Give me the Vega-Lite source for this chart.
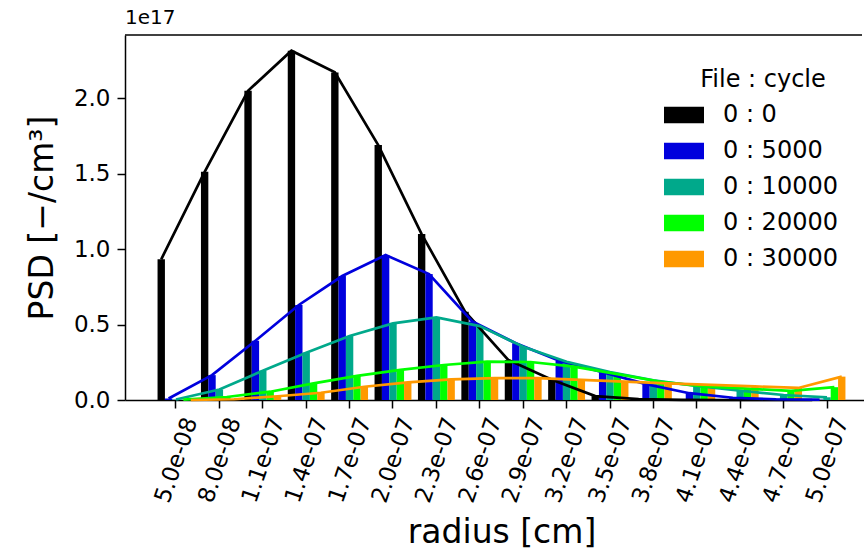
{
  "$schema": "https://vega.github.io/schema/vega-lite/v6.json",
  "autosize": "none",
  "width": 737,
  "height": 365,
  "padding": {"left": 125, "top": 35, "right": 2, "bottom": 153},
  "config": {
    "font": "DejaVu Sans",
    "view": {"stroke": null},
    "axis": {"grid": false, "domainColor": "black", "domainWidth": 1.5, "tickColor": "black", "tickWidth": 1.5, "labelColor": "black", "titleColor": "black", "titleFontWeight": "normal"}
  },
  "title": {"text": "1e17", "anchor": "start", "frame": "group", "fontSize": 20, "fontWeight": "normal", "color": "black", "offset": 6},
  "data": {
    "values": [
      {"r": "5.0e-08", "s": "0 : 0", "v": 9.33e16},
      {"r": "8.0e-08", "s": "0 : 0", "v": 1.513e17},
      {"r": "1.1e-07", "s": "0 : 0", "v": 2.05e17},
      {"r": "1.4e-07", "s": "0 : 0", "v": 2.316e17},
      {"r": "1.7e-07", "s": "0 : 0", "v": 2.172e17},
      {"r": "2.0e-07", "s": "0 : 0", "v": 1.69e17},
      {"r": "2.3e-07", "s": "0 : 0", "v": 1.1e17},
      {"r": "2.6e-07", "s": "0 : 0", "v": 5.85e16},
      {"r": "2.9e-07", "s": "0 : 0", "v": 2.65e16},
      {"r": "3.2e-07", "s": "0 : 0", "v": 1.35e16},
      {"r": "3.5e-07", "s": "0 : 0", "v": 2.6e15},
      {"r": "3.8e-07", "s": "0 : 0", "v": 6e14},
      {"r": "4.1e-07", "s": "0 : 0", "v": 1e14},
      {"r": "4.4e-07", "s": "0 : 0", "v": 0},
      {"r": "4.7e-07", "s": "0 : 0", "v": 0},
      {"r": "5.0e-07", "s": "0 : 0", "v": 0},
      {"r": "5.0e-08", "s": "0 : 5000", "v": 1e15},
      {"r": "8.0e-08", "s": "0 : 5000", "v": 1.65e16},
      {"r": "1.1e-07", "s": "0 : 5000", "v": 3.93e16},
      {"r": "1.4e-07", "s": "0 : 5000", "v": 6.3e16},
      {"r": "1.7e-07", "s": "0 : 5000", "v": 8.22e16},
      {"r": "2.0e-07", "s": "0 : 5000", "v": 9.61e16},
      {"r": "2.3e-07", "s": "0 : 5000", "v": 8.35e16},
      {"r": "2.6e-07", "s": "0 : 5000", "v": 5.2e16},
      {"r": "2.9e-07", "s": "0 : 5000", "v": 3.76e16},
      {"r": "3.2e-07", "s": "0 : 5000", "v": 2.6e16},
      {"r": "3.5e-07", "s": "0 : 5000", "v": 1.85e16},
      {"r": "3.8e-07", "s": "0 : 5000", "v": 1.05e16},
      {"r": "4.1e-07", "s": "0 : 5000", "v": 4.5e15},
      {"r": "4.4e-07", "s": "0 : 5000", "v": 1.5e15},
      {"r": "4.7e-07", "s": "0 : 5000", "v": 5e14},
      {"r": "5.0e-07", "s": "0 : 5000", "v": 2e14},
      {"r": "5.0e-08", "s": "0 : 10000", "v": 3e14},
      {"r": "8.0e-08", "s": "0 : 10000", "v": 7e15},
      {"r": "1.1e-07", "s": "0 : 10000", "v": 1.94e16},
      {"r": "1.4e-07", "s": "0 : 10000", "v": 3.14e16},
      {"r": "1.7e-07", "s": "0 : 10000", "v": 4.24e16},
      {"r": "2.0e-07", "s": "0 : 10000", "v": 5.08e16},
      {"r": "2.3e-07", "s": "0 : 10000", "v": 5.48e16},
      {"r": "2.6e-07", "s": "0 : 10000", "v": 4.9e16},
      {"r": "2.9e-07", "s": "0 : 10000", "v": 3.53e16},
      {"r": "3.2e-07", "s": "0 : 10000", "v": 2.54e16},
      {"r": "3.5e-07", "s": "0 : 10000", "v": 1.85e16},
      {"r": "3.8e-07", "s": "0 : 10000", "v": 1.3e16},
      {"r": "4.1e-07", "s": "0 : 10000", "v": 9.3e15},
      {"r": "4.4e-07", "s": "0 : 10000", "v": 6.2e15},
      {"r": "4.7e-07", "s": "0 : 10000", "v": 3.3e15},
      {"r": "5.0e-07", "s": "0 : 10000", "v": 1.8e15},
      {"r": "5.0e-08", "s": "0 : 20000", "v": 2e14},
      {"r": "8.0e-08", "s": "0 : 20000", "v": 2e15},
      {"r": "1.1e-07", "s": "0 : 20000", "v": 5.5e15},
      {"r": "1.4e-07", "s": "0 : 20000", "v": 1.1e16},
      {"r": "1.7e-07", "s": "0 : 20000", "v": 1.6e16},
      {"r": "2.0e-07", "s": "0 : 20000", "v": 2.0e16},
      {"r": "2.3e-07", "s": "0 : 20000", "v": 2.32e16},
      {"r": "2.6e-07", "s": "0 : 20000", "v": 2.54e16},
      {"r": "2.9e-07", "s": "0 : 20000", "v": 2.52e16},
      {"r": "3.2e-07", "s": "0 : 20000", "v": 2.21e16},
      {"r": "3.5e-07", "s": "0 : 20000", "v": 1.72e16},
      {"r": "3.8e-07", "s": "0 : 20000", "v": 1.21e16},
      {"r": "4.1e-07", "s": "0 : 20000", "v": 9e15},
      {"r": "4.4e-07", "s": "0 : 20000", "v": 7.5e15},
      {"r": "4.7e-07", "s": "0 : 20000", "v": 6e15},
      {"r": "5.0e-07", "s": "0 : 20000", "v": 8.5e15},
      {"r": "5.0e-08", "s": "0 : 30000", "v": 0},
      {"r": "8.0e-08", "s": "0 : 30000", "v": 5e14},
      {"r": "1.1e-07", "s": "0 : 30000", "v": 2.5e15},
      {"r": "1.4e-07", "s": "0 : 30000", "v": 4.8e15},
      {"r": "1.7e-07", "s": "0 : 30000", "v": 8.8e15},
      {"r": "2.0e-07", "s": "0 : 30000", "v": 1.17e16},
      {"r": "2.3e-07", "s": "0 : 30000", "v": 1.37e16},
      {"r": "2.6e-07", "s": "0 : 30000", "v": 1.45e16},
      {"r": "2.9e-07", "s": "0 : 30000", "v": 1.45e16},
      {"r": "3.2e-07", "s": "0 : 30000", "v": 1.33e16},
      {"r": "3.5e-07", "s": "0 : 30000", "v": 1.22e16},
      {"r": "3.8e-07", "s": "0 : 30000", "v": 1.1e16},
      {"r": "4.1e-07", "s": "0 : 30000", "v": 1.0e16},
      {"r": "4.4e-07", "s": "0 : 30000", "v": 9e15},
      {"r": "4.7e-07", "s": "0 : 30000", "v": 8e15},
      {"r": "5.0e-07", "s": "0 : 30000", "v": 1.55e16}
    ]
  },
  "layer": [
    {
      "mark": {"type": "bar"},
      "encoding": {
        "x": {
          "field": "r", "type": "nominal",
          "sort": ["5.0e-08","8.0e-08","1.1e-07","1.4e-07","1.7e-07","2.0e-07","2.3e-07","2.6e-07","2.9e-07","3.2e-07","3.5e-07","3.8e-07","4.1e-07","4.4e-07","4.7e-07","5.0e-07"],
          "scale": {"type": "band", "range": [0, 753], "paddingInner": 0.15, "paddingOuter": 0.75},
          "axis": {"title": "radius [cm]", "titleFontSize": 33, "titlePadding": 11, "labelAngle": -71, "labelAlign": "right", "labelBaseline": "middle", "labelFontSize": 23, "labelOffset": 15, "labelPadding": 10, "tickSize": 8}
        },
        "xOffset": {"field": "s", "type": "nominal", "sort": ["0 : 0","0 : 5000","0 : 10000","0 : 20000","0 : 30000"], "scale": {"paddingInner": 0, "paddingOuter": 0}},
        "y": {
          "field": "v", "type": "quantitative",
          "scale": {"domain": [0, 2.42e17], "nice": false, "zero": true},
          "axis": {"title": "PSD [−/cm³]", "titleFontSize": 33, "titlePadding": 14, "values": [0, 5e16, 1e17, 1.5e17, 2e17], "labelExpr": "format(datum.value/1e17, '.1f')", "labelFontSize": 23, "labelPadding": 7, "tickSize": 8}
        },
        "color": {
          "field": "s", "type": "nominal",
          "scale": {"domain": ["0 : 0","0 : 5000","0 : 10000","0 : 20000","0 : 30000"], "range": ["#000000","#0000dd","#00a98b","#00ff00","#ff9900"]},
          "legend": {"title": "File : cycle", "orient": "none", "legendX": 547, "legendY": 33, "padding": 0, "titleFontSize": 24, "titleFontWeight": "normal", "titleColor": "black", "titlePadding": 11, "titleAnchor": "middle", "labelFontSize": 24, "labelColor": "black", "labelOffset": 27, "symbolType": "M-2,-0.83L2,-0.83L2,0.83L-2,0.83Z", "symbolSize": 400, "symbolStrokeWidth": 0, "rowPadding": 12, "encode": {"title": {"update": {"dx": {"value": 8}}}}}
        }
      }
    },
    {
      "mark": {"type": "line", "strokeWidth": 2.7},
      "encoding": {
        "x": {"field": "r", "type": "nominal", "sort": ["5.0e-08","8.0e-08","1.1e-07","1.4e-07","1.7e-07","2.0e-07","2.3e-07","2.6e-07","2.9e-07","3.2e-07","3.5e-07","3.8e-07","4.1e-07","4.4e-07","4.7e-07","5.0e-07"]},
        "xOffset": {"field": "s", "type": "nominal", "sort": ["0 : 0","0 : 5000","0 : 10000","0 : 20000","0 : 30000"]},
        "y": {"field": "v", "type": "quantitative"},
        "color": {"field": "s", "type": "nominal", "legend": null}
      }
    },
    {
      "data": {"values": [{}]},
      "mark": {"type": "rule", "color": "black", "strokeWidth": 1.5},
      "encoding": {"y": {"datum": 2.42e17, "type": "quantitative"}}
    }
  ]
}
